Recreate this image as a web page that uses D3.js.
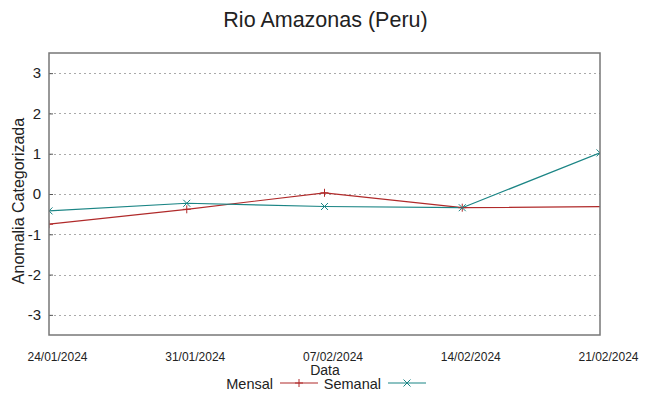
<!DOCTYPE html>
<html>
<head>
<meta charset="utf-8">
<script src="https://cdn.jsdelivr.net/npm/d3@7"></script>
<style>
  body { margin: 0; background: #fff; }
  text { font-family: "Liberation Sans", Arial, sans-serif; fill: #222; }
</style>
</head>
<body>
<div id="chart"></div>
<script>
// values
var dates = ["24/01/2024", "31/01/2024", "07/02/2024", "14/02/2024", "21/02/2024"];
var mensalDates = ["24/01/2024", "31/01/2024", "07/02/2024", "14/02/2024", "28/02/2024"];
var mensal = [-0.75, -0.38, 0.03, -0.34, -0.29];
var semanal = [-0.42, -0.23, -0.31, -0.34, 1.02];
var yTicks = [-3, -2, -1, 0, 1, 2, 3];

var width = 649, height = 396;
var margin = {top: 53, right: 49, bottom: 61, left: 49};
var chartWidth = width - margin.left - margin.right,
    chartHeight = height - margin.top - margin.bottom;

var parse = d3.timeParse("%d/%m/%Y");
var red = "#b02a2a", teal = "#1b8585";

var svg = d3.select("#chart").append("svg")
    .attr("width", width)
    .attr("height", height);

svg.append("text")
    .attr("x", width / 2 + 1)
    .attr("y", 27)
    .attr("text-anchor", "middle")
    .style("font-size", "21.5px")
    .text("Rio Amazonas (Peru)");

var chart = svg.append("g")
    .attr("transform", "translate(" + margin.left + "," + margin.top + ")");

var x = d3.scaleTime()
    .domain([parse(dates[0]), parse(dates[dates.length - 1])])
    .range([0, chartWidth]);

var y = d3.scaleLinear()
    .domain([-3.5, 3.5])
    .range([chartHeight, 0]);

// grid
chart.append("g")
    .selectAll("line")
    .data(yTicks)
    .join("line")
    .attr("x1", 0)
    .attr("x2", chartWidth)
    .attr("y1", function(d) { return Math.round(y(d)) + 0.5; })
    .attr("y2", function(d) { return Math.round(y(d)) + 0.5; })
    .attr("stroke", "#aaa")
    .attr("stroke-width", 1)
    .attr("stroke-dasharray", "2,3");

// y axis
var yAxis = chart.append("g")
    .call(d3.axisLeft(y).tickValues(yTicks).tickSize(-4).tickPadding(8)
      .tickFormat(function(d) { return String(d); }));
yAxis.select(".domain").remove();
yAxis.selectAll("line").attr("stroke", "#555");
yAxis.selectAll("text")
    .style("font-size", "15px")
    .style("font-family", "'Liberation Sans', Arial, sans-serif")
    .attr("fill", "#222");

// x axis labels (gnuplot puts them a little right of the tick)
var xAxis = chart.append("g")
    .attr("transform", "translate(0," + chartHeight + ")")
    .call(d3.axisBottom(x).tickValues(dates.map(parse)).tickSize(0).tickPadding(17)
      .tickFormat(d3.timeFormat("%d/%m/%Y")));
xAxis.select(".domain").remove();
xAxis.selectAll("text")
    .attr("dx", 8)
    .style("font-size", "12px")
    .style("font-family", "'Liberation Sans', Arial, sans-serif")
    .attr("fill", "#222");

// clip
chart.append("clipPath").attr("id", "clip")
  .append("rect").attr("width", chartWidth).attr("height", chartHeight);

var plot = chart.append("g").attr("clip-path", "url(#clip)");

var line = d3.line()
    .x(function(d) { return x(parse(d[0])); })
    .y(function(d) { return y(d[1]); });

var mensalData = d3.zip(mensalDates, mensal);
var semanalData = d3.zip(dates, semanal);

plot.append("path")
    .datum(mensalData)
    .attr("fill", "none")
    .attr("stroke", red)
    .attr("stroke-width", 1.2)
    .attr("d", line);

plot.append("path")
    .datum(semanalData)
    .attr("fill", "none")
    .attr("stroke", teal)
    .attr("stroke-width", 1.2)
    .attr("d", line);

function plus(g, cx, cy, c) {
  g.append("path")
    .attr("d", "M" + (cx - 4) + "," + cy + "H" + (cx + 4) + "M" + cx + "," + (cy - 4) + "V" + (cy + 4))
    .attr("stroke", c).attr("stroke-width", 1).attr("fill", "none");
}
function cross(g, cx, cy, c) {
  g.append("path")
    .attr("d", "M" + (cx - 3.5) + "," + (cy - 3.5) + "L" + (cx + 3.5) + "," + (cy + 3.5) +
               "M" + (cx - 3.5) + "," + (cy + 3.5) + "L" + (cx + 3.5) + "," + (cy - 3.5))
    .attr("stroke", c).attr("stroke-width", 1).attr("fill", "none");
}

mensalData.forEach(function(d) { plus(plot, x(parse(d[0])), y(d[1]), red); });
semanalData.forEach(function(d) { cross(plot, x(parse(d[0])), y(d[1]), teal); });

// frame
chart.append("rect")
    .attr("x", 0).attr("y", 0)
    .attr("width", chartWidth).attr("height", chartHeight)
    .attr("fill", "none")
    .attr("stroke", "#777")
    .attr("stroke-width", 1.5);

// axis titles
svg.append("text")
    .attr("transform", "translate(24,201) rotate(-90)")
    .attr("text-anchor", "middle")
    .style("font-size", "16px")
    .text("Anomalia Categorizada");

svg.append("text")
    .attr("x", 325)
    .attr("y", 375)
    .attr("text-anchor", "middle")
    .style("font-size", "14px")
    .text("Data");

// legend
var legend = svg.append("g");
var items = [
  {name: "Mensal", color: red, mark: plus, tx: 273, lx: 280},
  {name: "Semanal", color: teal, mark: cross, tx: 381, lx: 388}
];
items.forEach(function(it) {
  legend.append("text")
    .attr("x", it.tx).attr("y", 389)
    .attr("text-anchor", "end")
    .style("font-size", "14.5px")
    .text(it.name);
  legend.append("line")
    .attr("x1", it.lx).attr("x2", it.lx + 38)
    .attr("y1", 383).attr("y2", 383)
    .attr("stroke", it.color).attr("stroke-width", 1.2);
  it.mark(legend, it.lx + 19, 383, it.color);
});
</script>
</body>
</html>
